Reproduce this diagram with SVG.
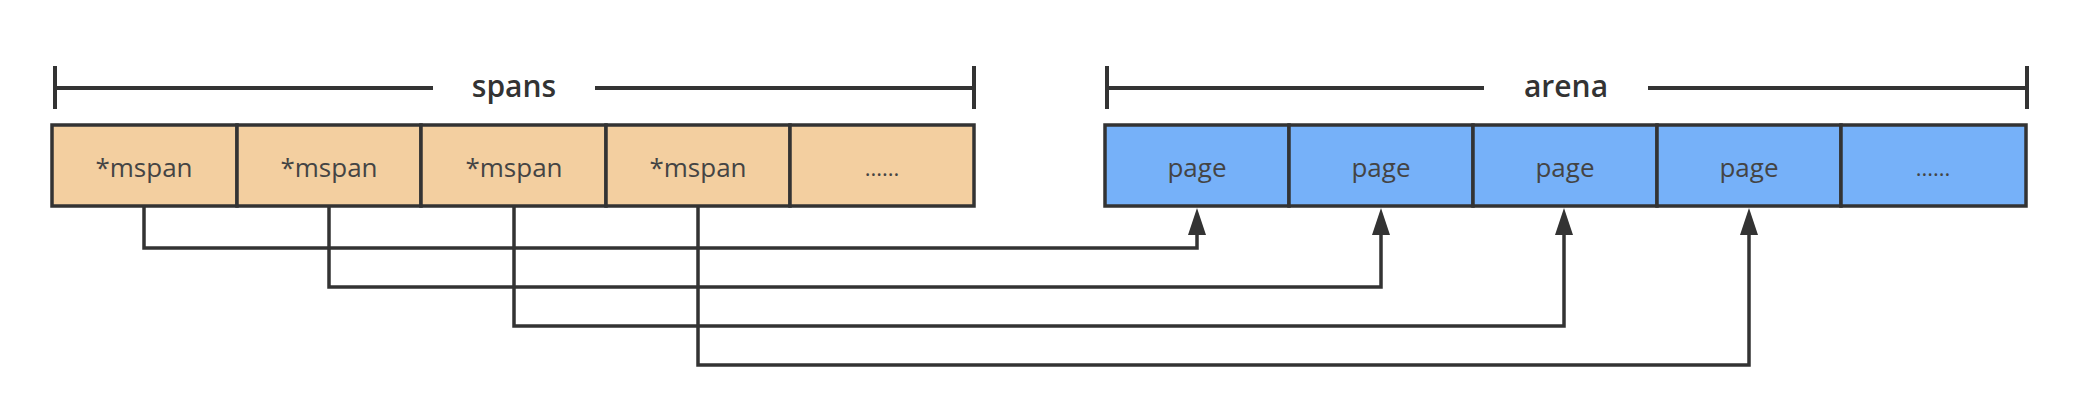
<svg xmlns="http://www.w3.org/2000/svg" width="2081" height="417" viewBox="0 0 2081 417">
<style>
.bar{stroke:#333;stroke-width:4;fill:none}
.span{fill:#F3CFA0;stroke:#333;stroke-width:3.5}
.page{fill:#76B1F9;stroke:#333;stroke-width:3.5}
.lbl{font-family:"Open Sans","Liberation Sans",sans-serif;font-size:26px;fill:#444;text-anchor:middle}
.dots{font-family:"Open Sans","Liberation Sans",sans-serif;font-size:22px;fill:#444;text-anchor:middle}
.ttl{font-family:"Open Sans","Liberation Sans",sans-serif;font-size:30px;font-weight:600;fill:#333;text-anchor:middle}
.con{stroke:#333;stroke-width:3.5;fill:none}
</style>
<defs>
<marker id="ah" markerUnits="userSpaceOnUse" viewBox="0 0 27 18" refX="20" refY="9" markerWidth="27" markerHeight="18" orient="auto">
<path d="M0,0 L27,9 L0,18 z" fill="#333"/>
</marker>
</defs>
<g id="spans-bracket">
<path class="bar" d="M55 66 V109 M55 88 H433 M595 88 H974 M974 66 V109"/>
<text class="ttl" x="514" y="97">spans</text>
</g>
<g id="arena-bracket">
<path class="bar" d="M1107 66 V109 M1107 88 H1484 M1648 88 H2027 M2027 66 V109"/>
<text class="ttl" x="1566" y="97">arena</text>
</g>
<g id="span1"><rect class="span" x="52" y="125" width="185" height="81"/><text class="lbl" x="144" y="177">*mspan</text></g>
<g id="span2"><rect class="span" x="237" y="125" width="184" height="81"/><text class="lbl" x="329" y="177">*mspan</text></g>
<g id="span3"><rect class="span" x="421" y="125" width="185" height="81"/><text class="lbl" x="514" y="177">*mspan</text></g>
<g id="span4"><rect class="span" x="606" y="125" width="184" height="81"/><text class="lbl" x="698" y="177">*mspan</text></g>
<g id="span5"><rect class="span" x="790" y="125" width="184" height="81"/><text class="dots" x="882" y="176">......</text></g>
<g id="page1"><rect class="page" x="1105" y="125" width="184" height="81"/><text class="lbl" x="1197" y="177">page</text></g>
<g id="page2"><rect class="page" x="1289" y="125" width="184" height="81"/><text class="lbl" x="1381" y="177">page</text></g>
<g id="page3"><rect class="page" x="1473" y="125" width="184" height="81"/><text class="lbl" x="1565" y="177">page</text></g>
<g id="page4"><rect class="page" x="1657" y="125" width="184" height="81"/><text class="lbl" x="1749" y="177">page</text></g>
<g id="page5"><rect class="page" x="1841" y="125" width="185" height="81"/><text class="dots" x="1933" y="176">......</text></g>
<g id="connectors">
<path class="con" d="M144 207 V248 H1197 V215" marker-end="url(#ah)"/>
<path class="con" d="M329 207 V287 H1381 V215" marker-end="url(#ah)"/>
<path class="con" d="M514 207 V326 H1564 V215" marker-end="url(#ah)"/>
<path class="con" d="M698 207 V365 H1749 V215" marker-end="url(#ah)"/>
</g>
</svg>
